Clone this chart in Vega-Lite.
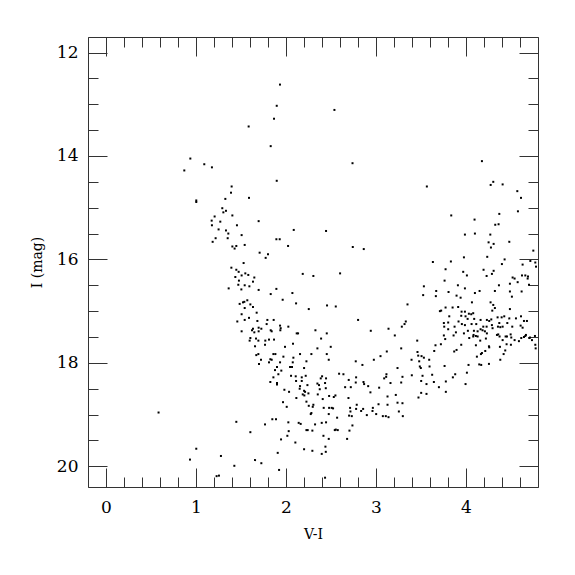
{
"$schema": "https://vega.github.io/schema/vega-lite/v6.json",
"width": 450, "height": 450,
"autosize": {"type": "none"},
"padding": {"left": 88, "top": 37, "right": 37, "bottom": 88},
"background": "white",
"config": {"view": {"stroke": "#333", "strokeWidth": 1}},
"data": {"values": [
{"vi":0.937,"mag":14.05},{"vi":1.092,"mag":14.16},{"vi":1.177,"mag":14.22},{"vi":0.870,"mag":14.28},{"vi":1.396,"mag":14.59},
{"vi":1.933,"mag":12.62},{"vi":1.897,"mag":13.03},{"vi":2.538,"mag":13.11},{"vi":1.867,"mag":13.28},{"vi":1.585,"mag":13.43},{"vi":1.830,"mag":13.81},{"vi":2.739,"mag":14.14},{"vi":1.897,"mag":14.48},
{"vi":4.177,"mag":14.10},{"vi":3.565,"mag":14.59},{"vi":4.303,"mag":14.50},{"vi":4.274,"mag":14.56},{"vi":4.407,"mag":14.55},
{"vi":1.389,"mag":14.71},{"vi":1.003,"mag":14.86},{"vi":1.003,"mag":14.89},{"vi":1.326,"mag":14.83},{"vi":1.292,"mag":15.01},{"vi":1.333,"mag":15.06},{"vi":1.304,"mag":15.09},{"vi":1.207,"mag":15.17},{"vi":1.404,"mag":15.15},{"vi":1.174,"mag":15.25},{"vi":1.270,"mag":15.27},{"vi":1.177,"mag":15.34},{"vi":1.455,"mag":15.34},{"vi":1.251,"mag":15.42},{"vi":1.333,"mag":15.44},{"vi":1.359,"mag":15.50},{"vi":1.218,"mag":15.59},{"vi":1.352,"mag":15.59},{"vi":1.185,"mag":15.66},{"vi":1.404,"mag":15.75},{"vi":1.448,"mag":15.74},{"vi":1.429,"mag":15.79},{"vi":1.393,"mag":16.16},{"vi":1.448,"mag":16.20},{"vi":1.474,"mag":16.24},{"vi":1.437,"mag":16.34},{"vi":1.477,"mag":16.41},{"vi":1.470,"mag":16.49},{"vi":1.363,"mag":16.56},{"vi":1.485,"mag":16.86},{"vi":1.459,"mag":17.20},
{"vi":1.589,"mag":14.81},{"vi":1.696,"mag":15.26},{"vi":1.507,"mag":15.53},{"vi":2.086,"mag":15.43},{"vi":2.445,"mag":15.45},{"vi":1.893,"mag":15.61},{"vi":1.930,"mag":15.61},{"vi":1.541,"mag":15.72},{"vi":2.023,"mag":15.74},{"vi":2.742,"mag":15.76},{"vi":2.864,"mag":15.80},{"vi":1.707,"mag":15.87},{"vi":1.800,"mag":15.90},{"vi":1.774,"mag":15.97},{"vi":1.529,"mag":16.07},{"vi":1.548,"mag":16.27},{"vi":1.581,"mag":16.30},{"vi":1.507,"mag":16.31},{"vi":1.648,"mag":16.35},{"vi":1.633,"mag":16.43},{"vi":2.186,"mag":16.28},{"vi":2.304,"mag":16.32},{"vi":2.601,"mag":16.27},{"vi":1.541,"mag":16.50},{"vi":1.593,"mag":16.52},{"vi":1.504,"mag":16.58},{"vi":1.696,"mag":16.59},{"vi":1.830,"mag":16.67},{"vi":1.893,"mag":16.57},{"vi":2.071,"mag":16.65},{"vi":1.963,"mag":16.78},{"vi":1.570,"mag":16.79},{"vi":1.537,"mag":16.82},{"vi":1.522,"mag":16.83},{"vi":1.604,"mag":16.87},{"vi":1.633,"mag":16.92},{"vi":2.112,"mag":16.85},{"vi":2.456,"mag":16.89},{"vi":2.553,"mag":16.91},{"vi":2.253,"mag":16.96},{"vi":1.541,"mag":16.94},{"vi":1.674,"mag":17.03},{"vi":1.507,"mag":17.06},{"vi":1.589,"mag":17.13},{"vi":1.541,"mag":17.17},{"vi":1.682,"mag":17.19},{"vi":1.793,"mag":17.17},{"vi":1.863,"mag":17.17},{"vi":1.785,"mag":17.25},{"vi":1.934,"mag":17.28},{"vi":1.941,"mag":17.33},{"vi":1.937,"mag":17.37},{"vi":2.026,"mag":17.30},{"vi":1.830,"mag":17.37},{"vi":1.841,"mag":17.39},{"vi":1.507,"mag":17.39},{"vi":1.633,"mag":17.34},{"vi":1.622,"mag":17.37},{"vi":1.696,"mag":17.32},{"vi":1.726,"mag":17.34},{"vi":1.648,"mag":17.41},{"vi":1.696,"mag":17.39},{"vi":2.119,"mag":17.43},{"vi":2.134,"mag":17.43},{"vi":2.327,"mag":17.37},{"vi":2.453,"mag":17.43},{"vi":2.801,"mag":17.17},{"vi":2.942,"mag":17.38},{"vi":3.139,"mag":17.34},{"vi":1.604,"mag":17.52},{"vi":1.667,"mag":17.53},{"vi":2.390,"mag":17.53},{"vi":1.811,"mag":17.55},{"vi":1.867,"mag":17.55},
{"vi":4.570,"mag":14.68},{"vi":4.611,"mag":14.81},{"vi":4.577,"mag":15.07},{"vi":3.836,"mag":15.15},{"vi":4.095,"mag":15.23},{"vi":4.370,"mag":15.12},{"vi":4.325,"mag":15.33},{"vi":4.362,"mag":15.32},{"vi":3.988,"mag":15.52},{"vi":4.099,"mag":15.50},{"vi":4.270,"mag":15.52},{"vi":4.481,"mag":15.66},{"vi":4.251,"mag":15.67},{"vi":4.307,"mag":15.70},{"vi":4.277,"mag":15.77},{"vi":4.748,"mag":15.83},{"vi":3.977,"mag":15.96},{"vi":4.236,"mag":15.95},{"vi":4.429,"mag":16.00},{"vi":4.399,"mag":16.09},{"vi":3.632,"mag":16.05},{"vi":3.832,"mag":16.04},{"vi":3.773,"mag":16.19},{"vi":4.195,"mag":16.20},{"vi":3.969,"mag":16.24},{"vi":4.010,"mag":16.31},{"vi":4.307,"mag":16.22},{"vi":4.288,"mag":16.28},{"vi":4.229,"mag":16.32},{"vi":4.629,"mag":16.10},{"vi":4.715,"mag":16.03},{"vi":4.770,"mag":16.06},{"vi":4.778,"mag":16.14},{"vi":4.518,"mag":16.35},{"vi":4.540,"mag":16.37},{"vi":4.622,"mag":16.31},{"vi":4.659,"mag":16.31},{"vi":4.689,"mag":16.33},{"vi":4.685,"mag":16.37},{"vi":3.762,"mag":16.41},{"vi":4.574,"mag":16.44},{"vi":4.488,"mag":16.47},{"vi":4.700,"mag":16.49},{"vi":4.366,"mag":16.50},{"vi":3.910,"mag":16.50},{"vi":3.988,"mag":16.56},{"vi":3.532,"mag":16.52},{"vi":3.669,"mag":16.61},{"vi":3.806,"mag":16.63},{"vi":4.099,"mag":16.65},{"vi":4.151,"mag":16.61},{"vi":4.321,"mag":16.61},{"vi":4.488,"mag":16.62},{"vi":4.618,"mag":16.62},{"vi":3.524,"mag":16.69},{"vi":3.665,"mag":16.71},{"vi":3.895,"mag":16.70},{"vi":3.940,"mag":16.74},{"vi":4.510,"mag":16.72},{"vi":4.066,"mag":16.83},{"vi":4.273,"mag":16.83},{"vi":3.350,"mag":16.87},{"vi":4.303,"mag":16.88},{"vi":3.773,"mag":16.93},{"vi":3.851,"mag":16.93},{"vi":3.913,"mag":16.92},{"vi":3.724,"mag":16.99},{"vi":3.710,"mag":17.00},{"vi":3.951,"mag":17.01},{"vi":3.988,"mag":17.01},{"vi":4.032,"mag":17.05},{"vi":4.058,"mag":17.06},{"vi":4.080,"mag":17.04},{"vi":4.292,"mag":16.99},{"vi":4.321,"mag":16.94},{"vi":4.488,"mag":16.96},{"vi":3.814,"mag":17.10},{"vi":3.947,"mag":17.09},{"vi":3.995,"mag":17.10},{"vi":4.018,"mag":17.15},{"vi":4.091,"mag":17.15},{"vi":4.162,"mag":17.17},{"vi":4.232,"mag":17.17},{"vi":4.258,"mag":17.19},{"vi":4.281,"mag":17.16},{"vi":4.351,"mag":17.12},{"vi":4.396,"mag":17.12},{"vi":4.425,"mag":17.10},{"vi":4.481,"mag":17.14},{"vi":4.555,"mag":17.14},{"vi":4.611,"mag":17.10},{"vi":4.644,"mag":17.19},{"vi":4.677,"mag":17.19},{"vi":3.209,"mag":17.47},{"vi":3.287,"mag":17.30},{"vi":3.317,"mag":17.25},{"vi":3.331,"mag":17.20},{"vi":3.754,"mag":17.23},{"vi":3.802,"mag":17.22},{"vi":3.917,"mag":17.20},{"vi":3.954,"mag":17.25},{"vi":3.988,"mag":17.27},{"vi":4.062,"mag":17.25},{"vi":4.114,"mag":17.25},{"vi":3.873,"mag":17.30},{"vi":4.192,"mag":17.30},{"vi":4.229,"mag":17.30},{"vi":4.288,"mag":17.27},{"vi":4.370,"mag":17.23},{"vi":4.459,"mag":17.23},{"vi":3.758,"mag":17.30},{"vi":3.802,"mag":17.35},{"vi":3.862,"mag":17.47},{"vi":3.888,"mag":17.41},{"vi":3.977,"mag":17.43},{"vi":4.021,"mag":17.38},{"vi":4.088,"mag":17.38},{"vi":4.129,"mag":17.39},{"vi":4.162,"mag":17.35},{"vi":4.184,"mag":17.37},{"vi":4.210,"mag":17.39},{"vi":4.295,"mag":17.33},{"vi":4.355,"mag":17.30},{"vi":4.381,"mag":17.31},{"vi":4.407,"mag":17.30},{"vi":4.514,"mag":17.30},{"vi":4.607,"mag":17.28},{"vi":4.629,"mag":17.32},{"vi":3.754,"mag":17.47},{"vi":4.084,"mag":17.46},{"vi":4.129,"mag":17.49},{"vi":4.232,"mag":17.43},{"vi":4.344,"mag":17.46},{"vi":4.358,"mag":17.45},{"vi":4.455,"mag":17.49},{"vi":4.496,"mag":17.45},{"vi":4.503,"mag":17.51},{"vi":4.644,"mag":17.50},{"vi":4.666,"mag":17.46},{"vi":4.711,"mag":17.51},{"vi":4.766,"mag":17.48},
{"vi":3.458,"mag":17.57},{"vi":3.120,"mag":17.78},{"vi":3.280,"mag":17.72},{"vi":3.395,"mag":17.94},{"vi":3.461,"mag":17.79},{"vi":3.469,"mag":17.86},{"vi":3.506,"mag":17.87},{"vi":3.532,"mag":17.90},{"vi":3.591,"mag":17.94},{"vi":3.480,"mag":17.97},{"vi":3.487,"mag":18.07},{"vi":3.498,"mag":18.10},{"vi":3.595,"mag":18.07},{"vi":3.661,"mag":17.66},{"vi":3.721,"mag":17.64},{"vi":3.769,"mag":17.54},{"vi":3.647,"mag":17.77},{"vi":3.762,"mag":18.06},{"vi":3.895,"mag":17.75},{"vi":3.869,"mag":17.78},{"vi":3.947,"mag":17.65},{"vi":4.036,"mag":17.52},{"vi":4.080,"mag":17.49},{"vi":4.110,"mag":17.48},{"vi":4.158,"mag":17.57},{"vi":4.221,"mag":17.53},{"vi":4.110,"mag":17.66},{"vi":4.255,"mag":17.68},{"vi":4.258,"mag":17.70},{"vi":4.214,"mag":17.77},{"vi":4.177,"mag":17.81},{"vi":4.166,"mag":17.83},{"vi":4.121,"mag":17.88},{"vi":4.028,"mag":18.04},{"vi":4.147,"mag":18.03},{"vi":4.169,"mag":18.04},{"vi":4.255,"mag":18.02},{"vi":4.381,"mag":17.94},{"vi":4.418,"mag":17.83},{"vi":4.436,"mag":17.76},{"vi":4.377,"mag":17.69},{"vi":4.451,"mag":17.64},{"vi":4.499,"mag":17.65},{"vi":4.407,"mag":17.56},{"vi":4.373,"mag":17.49},{"vi":4.440,"mag":17.49},{"vi":4.540,"mag":17.56},{"vi":4.588,"mag":17.58},{"vi":4.614,"mag":17.52},{"vi":4.659,"mag":17.48},{"vi":4.703,"mag":17.52},{"vi":4.733,"mag":17.56},{"vi":4.770,"mag":17.65},{"vi":4.774,"mag":17.72},{"vi":3.116,"mag":18.22},{"vi":3.113,"mag":18.27},{"vi":3.161,"mag":18.39},{"vi":3.239,"mag":18.10},{"vi":3.294,"mag":18.27},{"vi":3.280,"mag":18.38},{"vi":3.398,"mag":18.24},{"vi":3.517,"mag":18.25},{"vi":3.502,"mag":18.35},{"vi":3.561,"mag":18.41},{"vi":3.624,"mag":18.23},{"vi":3.643,"mag":18.37},{"vi":3.699,"mag":18.47},{"vi":3.776,"mag":18.36},{"vi":3.776,"mag":18.56},{"vi":3.854,"mag":18.28},{"vi":3.880,"mag":18.22},{"vi":4.010,"mag":18.19},{"vi":3.995,"mag":18.41},{"vi":3.502,"mag":18.58},{"vi":3.561,"mag":18.60},{"vi":3.472,"mag":18.67},{"vi":3.128,"mag":18.65},{"vi":3.220,"mag":18.62},{"vi":3.128,"mag":18.81},{"vi":3.239,"mag":18.77},{"vi":3.294,"mag":18.78},{"vi":3.254,"mag":18.94},{"vi":3.298,"mag":19.03},{"vi":3.139,"mag":19.05},
{"vi":1.596,"mag":17.57},{"vi":1.693,"mag":17.57},{"vi":1.770,"mag":17.57},{"vi":2.078,"mag":17.63},{"vi":1.656,"mag":17.68},{"vi":1.767,"mag":17.65},{"vi":1.989,"mag":17.69},{"vi":2.349,"mag":17.72},{"vi":2.497,"mag":17.69},{"vi":1.670,"mag":17.85},{"vi":1.693,"mag":17.83},{"vi":1.860,"mag":17.83},{"vi":1.882,"mag":17.83},{"vi":1.722,"mag":17.94},{"vi":1.826,"mag":17.93},{"vi":1.841,"mag":17.94},{"vi":1.811,"mag":17.99},{"vi":1.700,"mag":18.02},{"vi":1.971,"mag":17.88},{"vi":2.082,"mag":17.90},{"vi":2.156,"mag":17.83},{"vi":2.282,"mag":17.83},{"vi":2.453,"mag":17.83},{"vi":2.475,"mag":17.94},{"vi":2.227,"mag":17.97},{"vi":1.934,"mag":17.99},{"vi":2.075,"mag":17.99},{"vi":1.900,"mag":18.08},{"vi":2.045,"mag":18.08},{"vi":2.067,"mag":18.08},{"vi":1.878,"mag":18.14},{"vi":1.948,"mag":18.15},{"vi":2.201,"mag":18.10},{"vi":1.915,"mag":18.22},{"vi":1.860,"mag":18.28},{"vi":1.826,"mag":18.37},{"vi":1.900,"mag":18.39},{"vi":1.900,"mag":18.42},{"vi":2.056,"mag":18.25},{"vi":2.108,"mag":18.26},{"vi":2.175,"mag":18.28},{"vi":2.219,"mag":18.25},{"vi":2.112,"mag":18.35},{"vi":2.175,"mag":18.35},{"vi":2.238,"mag":18.43},{"vi":2.156,"mag":18.45},{"vi":2.152,"mag":18.50},{"vi":2.201,"mag":18.54},{"vi":1.982,"mag":18.52},{"vi":2.034,"mag":18.56},{"vi":2.115,"mag":18.68},{"vi":2.212,"mag":18.56},{"vi":2.249,"mag":18.59},{"vi":2.186,"mag":18.61},{"vi":2.204,"mag":18.63},{"vi":2.349,"mag":18.40},{"vi":2.367,"mag":18.43},{"vi":2.401,"mag":18.26},{"vi":2.386,"mag":18.30},{"vi":2.445,"mag":18.30},{"vi":2.434,"mag":18.39},{"vi":2.375,"mag":18.51},{"vi":2.353,"mag":18.61},{"vi":2.442,"mag":18.49},{"vi":2.531,"mag":18.66},{"vi":2.549,"mag":18.63},{"vi":2.479,"mag":18.64},{"vi":2.408,"mag":18.70},{"vi":1.967,"mag":18.76},{"vi":2.008,"mag":18.85},{"vi":2.227,"mag":18.75},{"vi":2.253,"mag":18.83},{"vi":2.304,"mag":18.81},{"vi":2.297,"mag":18.85},{"vi":2.419,"mag":18.87},{"vi":2.479,"mag":18.87},{"vi":2.523,"mag":18.88},{"vi":2.508,"mag":18.87},{"vi":2.475,"mag":18.99},{"vi":2.275,"mag":18.99},{"vi":2.282,"mag":18.97},{"vi":2.568,"mag":19.06},{"vi":2.590,"mag":18.21},{"vi":2.638,"mag":18.22},{"vi":2.697,"mag":18.33},{"vi":2.779,"mag":18.28},{"vi":2.775,"mag":17.97},{"vi":2.849,"mag":18.04},{"vi":2.976,"mag":17.94},{"vi":3.050,"mag":17.87},{"vi":3.091,"mag":18.30},{"vi":2.657,"mag":18.47},{"vi":2.720,"mag":18.47},{"vi":2.775,"mag":18.38},{"vi":2.861,"mag":18.37},{"vi":2.868,"mag":18.41},{"vi":2.913,"mag":18.45},{"vi":2.938,"mag":18.57},{"vi":3.035,"mag":18.48},{"vi":2.694,"mag":18.68},{"vi":2.712,"mag":18.87},{"vi":2.716,"mag":18.94},{"vi":2.701,"mag":19.02},{"vi":2.731,"mag":19.03},{"vi":2.779,"mag":18.89},{"vi":2.786,"mag":18.81},{"vi":2.835,"mag":18.93},{"vi":2.857,"mag":18.89},{"vi":2.898,"mag":19.01},{"vi":2.965,"mag":18.87},{"vi":2.961,"mag":18.93},{"vi":3.002,"mag":18.99},{"vi":3.028,"mag":18.80},{"vi":3.076,"mag":19.03},{"vi":3.109,"mag":19.03},{"vi":2.542,"mag":19.30},{"vi":2.553,"mag":19.29},{"vi":2.575,"mag":19.30},{"vi":2.323,"mag":19.19},{"vi":2.397,"mag":19.16},{"vi":2.445,"mag":19.15},{"vi":2.227,"mag":19.30},{"vi":2.241,"mag":19.30},{"vi":2.293,"mag":19.31},{"vi":2.416,"mag":19.41},{"vi":2.475,"mag":19.47},{"vi":2.141,"mag":19.16},{"vi":2.163,"mag":19.18},{"vi":2.026,"mag":19.15},{"vi":2.030,"mag":19.32},{"vi":2.015,"mag":19.41},{"vi":1.945,"mag":19.48},{"vi":2.104,"mag":19.54},{"vi":1.767,"mag":19.19},{"vi":1.848,"mag":19.09},{"vi":1.889,"mag":19.09},{"vi":1.604,"mag":19.34},{"vi":1.448,"mag":19.14},{"vi":1.908,"mag":19.74},{"vi":2.201,"mag":19.67},{"vi":2.293,"mag":19.70},{"vi":2.397,"mag":19.76},{"vi":2.442,"mag":19.72},{"vi":2.438,"mag":19.62},{"vi":2.679,"mag":19.47},{"vi":2.738,"mag":19.21},{"vi":2.705,"mag":19.31},{"vi":1.656,"mag":19.88},{"vi":1.726,"mag":19.94},{"vi":1.923,"mag":20.07},{"vi":2.434,"mag":20.22},
{"vi":0.584,"mag":18.96},{"vi":1.003,"mag":19.66},{"vi":0.933,"mag":19.87},{"vi":1.277,"mag":19.80},{"vi":1.426,"mag":19.99},{"vi":1.229,"mag":20.19},{"vi":1.255,"mag":20.18}
]},
"layer": [
{"mark": {"type": "point", "shape": "square", "filled": true, "size": 4, "color": "black", "opacity": 1, "strokeWidth": 0},
 "encoding": {
  "x": {"field": "vi", "type": "quantitative",
        "scale": {"domain": [-0.2, 4.8], "nice": false, "zero": false},
        "axis": {"orient": "bottom", "values": [-0.2,0,0.2,0.4,0.6,0.8,1,1.2,1.4,1.6,1.8,2,2.2,2.4,2.6,2.8,3,3.2,3.4,3.6,3.8,4,4.2,4.4,4.6,4.8],
                 "tickSize": {"condition": {"test": "abs(datum.value - round(datum.value)) < 0.001", "value": -19}, "value": -10},
                 "labelExpr": "abs(datum.value - round(datum.value)) < 0.001 ? format(datum.value, 'd') : ''",
                 "labelFont": "DejaVu Serif", "labelFontSize": 17, "labelColor": "black", "labelPadding": 31,
                 "labelOverlap": false, "labelFlush": false, "labelBound": false,
                 "domain": false, "grid": false, "tickColor": "#333", "tickWidth": 1,
                 "title": "V-I", "titleFont": "DejaVu Serif", "titleFontSize": 14, "titleFontWeight": "normal", "titleColor": "black", "titlePadding": 3}},
  "y": {"field": "mag", "type": "quantitative",
        "scale": {"domain": [11.7, 20.4], "reverse": true, "nice": false, "zero": false},
        "axis": {"orient": "left", "values": [12,12.5,13,13.5,14,14.5,15,15.5,16,16.5,17,17.5,18,18.5,19,19.5,20],
                 "tickSize": {"condition": {"test": "datum.value % 2 === 0", "value": -19}, "value": -10},
                 "labelExpr": "datum.value % 2 === 0 ? format(datum.value, 'd') : ''",
                 "labelFont": "DejaVu Serif", "labelFontSize": 17, "labelColor": "black", "labelPadding": 29,
                 "labelOverlap": false, "labelFlush": false, "labelBound": false,
                 "domain": false, "grid": false, "tickColor": "#333", "tickWidth": 1,
                 "title": "I (mag)", "titleFont": "DejaVu Serif", "titleFontSize": 14, "titleFontWeight": "normal", "titleColor": "black", "titlePadding": 12}}
 }},
{"mark": {"type": "point", "opacity": 0},
 "encoding": {
  "x": {"field": "vi", "type": "quantitative",
        "scale": {"domain": [-0.2, 4.8], "nice": false, "zero": false},
        "axis": {"orient": "top", "values": [-0.2,0,0.2,0.4,0.6,0.8,1,1.2,1.4,1.6,1.8,2,2.2,2.4,2.6,2.8,3,3.2,3.4,3.6,3.8,4,4.2,4.4,4.6,4.8],
                 "tickSize": {"condition": {"test": "abs(datum.value - round(datum.value)) < 0.001", "value": -19}, "value": -10},
                 "labels": false, "domain": false, "grid": false, "tickColor": "#333", "tickWidth": 1, "title": null}},
  "y": {"field": "mag", "type": "quantitative",
        "scale": {"domain": [11.7, 20.4], "reverse": true, "nice": false, "zero": false},
        "axis": {"orient": "right", "values": [12,12.5,13,13.5,14,14.5,15,15.5,16,16.5,17,17.5,18,18.5,19,19.5,20],
                 "tickSize": {"condition": {"test": "datum.value % 2 === 0", "value": -19}, "value": -10},
                 "labels": false, "domain": false, "grid": false, "tickColor": "#333", "tickWidth": 1, "title": null}}
 }}
],
"resolve": {"axis": {"x": "independent", "y": "independent"}}
}
